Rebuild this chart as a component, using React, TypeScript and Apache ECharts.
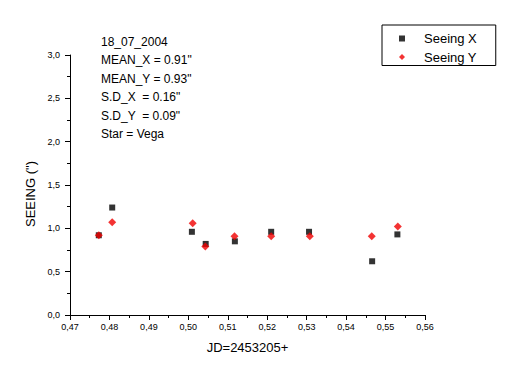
import React, { useEffect, useRef } from "react";
import * as echarts from "echarts";

const jdX = [0.4773, 0.4807, 0.5009, 0.5044, 0.5118, 0.5210, 0.5306, 0.5466, 0.5530];
const seeingX = [0.92, 1.24, 0.96, 0.82, 0.85, 0.96, 0.96, 0.62, 0.93];
const jdY = [0.4773, 0.4807, 0.5011, 0.5043, 0.5117, 0.5210, 0.5308, 0.5465, 0.5531];
const seeingY = [0.92, 1.07, 1.06, 0.79, 0.91, 0.91, 0.91, 0.91, 1.02];
const infoLines = [
  "18_07_2004",
  "MEAN_X = 0.91\"",
  "MEAN_Y = 0.93\"",
  "S.D_X  = 0.16\"",
  "S.D_Y  = 0.09\"",
  "Star = Vega",
];

const FONT = "Arial, 'Liberation Sans', sans-serif";

export default function App() {
  const ref = useRef<HTMLDivElement>(null);
  useEffect(() => {
    if (!ref.current) return;
    const chart = echarts.init(ref.current, undefined, { renderer: "svg" });
    chart.setOption({
      animation: false,
      backgroundColor: "#fff",
      grid: { left: 70, top: 55, right: 88, bottom: 67, containLabel: false },
      xAxis: {
        type: "value",
        min: 0.47,
        max: 0.56,
        interval: 0.01,
        name: "JD=2453205+",
        nameLocation: "middle",
        nameGap: 26,
        nameTextStyle: { fontSize: 13, color: "#000", fontFamily: FONT },
        axisLine: { show: true, lineStyle: { color: "#000", width: 1 } },
        axisTick: { show: true, inside: false, length: 5, lineStyle: { color: "#000" } },
        minorTick: { show: true, splitNumber: 2, length: 3, lineStyle: { color: "#000" } },
        splitLine: { show: false },
        axisLabel: {
          fontSize: 9,
          color: "#000",
          fontFamily: FONT,
          margin: 7,
          formatter: (v: number) => v.toFixed(2).replace(".", ","),
        },
      },
      yAxis: {
        type: "value",
        min: 0,
        max: 3,
        interval: 0.5,
        name: "SEEING (\")",
        nameLocation: "middle",
        nameGap: 29,
        nameRotate: 90,
        nameTextStyle: { fontSize: 13, color: "#000", fontFamily: FONT, padding: [0, 18, 0, 0] },
        axisLine: { show: true, lineStyle: { color: "#000", width: 1 } },
        axisTick: { show: true, inside: false, length: 5, lineStyle: { color: "#000" } },
        minorTick: { show: true, splitNumber: 2, length: 3, lineStyle: { color: "#000" } },
        splitLine: { show: false },
        axisLabel: {
          fontSize: 9,
          color: "#000",
          fontFamily: FONT,
          margin: 10,
          formatter: (v: number) => v.toFixed(1).replace(".", ","),
        },
      },
      legend: {
        left: 382,
        top: 25,
        orient: "vertical",
        borderColor: "#000",
        borderWidth: 1,
        borderRadius: 0,
        padding: [7, 19, 2, 17],
        itemWidth: 6,
        itemHeight: 6,
        itemGap: 5.5,
        textStyle: { fontSize: 13, color: "#000", fontFamily: FONT, padding: [0, 0, 0, 14] },
        data: ["Seeing X", "Seeing Y"],
      },
      graphic: infoLines.map((t, i) => ({
        type: "text",
        left: 101,
        top: 36 + i * 18.4,
        style: { text: t, fill: "#000", font: `12px ${FONT}` },
      })),
      series: [
        {
          name: "Seeing X",
          type: "scatter",
          symbol: "rect",
          symbolSize: 6,
          itemStyle: { color: "#000" },
          data: jdX.map((x, i) => [x, seeingX[i]]),
        },
        {
          name: "Seeing Y",
          type: "scatter",
          symbol: "diamond",
          symbolSize: 8,
          itemStyle: { color: "#f00000" },
          data: jdY.map((x, i) => [x, seeingY[i]]),
        },
      ],
    });
    return () => chart.dispose();
  }, []);
  return (
    <div
      ref={ref}
      style={{ position: "fixed", left: 0, top: 0, width: 513, height: 382 }}
    />
  );
}
